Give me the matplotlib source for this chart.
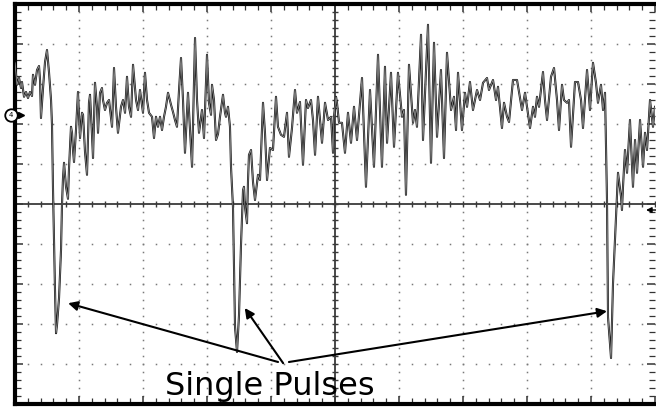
import numpy as np
import matplotlib
matplotlib.use("Agg")
import matplotlib.pyplot as plt
from matplotlib.ticker import MultipleLocator

# scope trace, time and voltage both in screen divisions
t_div = [
    0.0, 0.016, 0.031, 0.063, 0.094, 0.109, 0.141, 0.172, 0.203, 0.234,
    0.266, 0.281, 0.313, 0.344, 0.375, 0.391, 0.406, 0.438, 0.469, 0.5,
    0.531, 0.563, 0.578, 0.594, 0.625, 0.641, 0.656, 0.688, 0.719, 0.734,
    0.75, 0.766, 0.797, 0.828, 0.844, 0.875, 0.891, 0.906, 0.922, 0.953,
    0.984, 1.016, 1.047, 1.063, 1.094, 1.125, 1.156, 1.172, 1.203, 1.219,
    1.25, 1.281, 1.297, 1.328, 1.359, 1.375, 1.406, 1.438, 1.469, 1.516,
    1.547, 1.578, 1.609, 1.656, 1.688, 1.719, 1.75, 1.781, 1.813, 1.844,
    1.891, 1.922, 1.953, 2.0, 2.031, 2.063, 2.094, 2.141, 2.172, 2.203,
    2.234, 2.266, 2.297, 2.328, 2.359, 2.391, 2.438, 2.469, 2.5, 2.531,
    2.563, 2.594, 2.625, 2.656, 2.703, 2.734, 2.766, 2.813, 2.844, 2.875,
    2.922, 2.953, 3.0, 3.031, 3.063, 3.078, 3.109, 3.141, 3.172, 3.203,
    3.25, 3.281, 3.297, 3.328, 3.359, 3.375, 3.406, 3.422, 3.438, 3.469,
    3.5, 3.531, 3.563, 3.578, 3.594, 3.625, 3.641, 3.656, 3.688, 3.719,
    3.75, 3.797, 3.828, 3.875, 3.906, 3.938, 3.984, 4.031, 4.078, 4.109,
    4.156, 4.203, 4.25, 4.281, 4.328, 4.375, 4.406, 4.453, 4.5, 4.547,
    4.578, 4.625, 4.656, 4.688, 4.734, 4.766, 4.797, 4.844, 4.891, 4.938,
    4.969, 4.984, 5.016, 5.031, 5.063, 5.109, 5.156, 5.203, 5.25, 5.297,
    5.344, 5.422, 5.484, 5.547, 5.609, 5.672, 5.734, 5.781, 5.813, 5.875,
    5.922, 5.984, 6.047, 6.078, 6.109, 6.156, 6.219, 6.25, 6.281, 6.344,
    6.375, 6.453, 6.5, 6.547, 6.594, 6.656, 6.703, 6.75, 6.813, 6.859,
    6.891, 6.922, 6.984, 7.031, 7.063, 7.109, 7.156, 7.219, 7.266, 7.313,
    7.375, 7.406, 7.469, 7.516, 7.547, 7.609, 7.641, 7.688, 7.719, 7.781,
    7.844, 7.922, 7.969, 8.0, 8.047, 8.094, 8.125, 8.156, 8.188, 8.25,
    8.281, 8.313, 8.375, 8.422, 8.469, 8.5, 8.547, 8.578, 8.625, 8.656,
    8.688, 8.75, 8.797, 8.844, 8.875, 8.938, 8.984, 9.031, 9.078, 9.109,
    9.156, 9.188, 9.219, 9.25, 9.266, 9.313, 9.344, 9.391, 9.422, 9.469,
    9.484, 9.5, 9.531, 9.563, 9.609, 9.656, 9.688, 9.719, 9.766, 9.813,
    9.844, 9.875, 9.922, 9.969, 10.0,
]
v_div = [
    3.53, 3.25, 2.98, 3.15, 2.9, 3.05, 2.68, 2.8, 2.65, 2.8,
    2.7, 3.23, 2.98, 3.35, 3.45, 3.1, 2.15, 2.9, 3.55, 3.85,
    3.3, 2.6, 1.98, 0.35, -2.15, -3.23, -3.03, -2.35, -1.15, -0.03,
    0.65, 1.03, 0.43, 0.13, 0.9, 1.93, 1.78, 1.35, 1.05, 1.85,
    2.8, 1.65, 2.28, 2.23, 1.3, 0.73, 2.53, 2.73, 1.73, 1.15,
    3.03, 2.43, 1.78, 2.78, 2.9, 2.6, 2.35, 2.53, 2.6, 1.93,
    3.4, 2.43, 1.78, 2.43, 2.6, 2.28, 3.18, 2.43, 2.18, 3.48,
    2.6, 2.35, 2.85, 2.28, 3.28, 2.6, 2.28, 2.18, 1.65, 2.18,
    1.93, 2.18, 1.85, 2.18, 2.43, 2.78, 2.48, 2.3, 2.1, 1.93,
    2.85, 3.65, 2.6, 1.28, 2.78, 1.85, 0.93, 4.15, 2.6, 1.78,
    2.35, 1.65, 3.73, 2.53, 2.23, 2.98, 2.6, 1.6, 1.75, 2.18,
    2.73, 2.28, 2.18, 2.43, 1.93, 0.93, -0.08, -1.65, -3.08, -3.7,
    -2.78, -1.03, 0.35, 0.43, -0.08, -0.48, 0.6, 1.23, 1.35, 0.55,
    0.1, 0.73, 0.6, 2.53, 1.78, 0.6, 1.4, 1.35, 2.68, 1.93,
    1.73, 1.68, 2.28, 1.18, 1.9, 2.85, 2.28, 2.55, 0.98, 2.6,
    2.4, 2.6, 2.1, 1.23, 2.68, 2.1, 1.53, 2.53, 2.1, 2.18,
    1.28, 2.18, 2.68, 2.53, 2.03, 2.03, 1.28, 2.28, 1.53, 2.43,
    1.6, 3.15, 0.43, 2.85, 0.93, 3.73, 0.93, 3.43, 1.53, 3.28,
    1.43, 3.28, 2.18, 2.35, 0.23, 3.48, 2.03, 2.35, 1.93, 4.23,
    1.6, 4.48, 1.03, 4.03, 1.68, 3.35, 1.15, 3.78, 2.35, 2.68,
    1.85, 3.28, 1.85, 2.78, 2.43, 3.05, 2.35, 2.85, 2.6, 3.03,
    3.15, 2.85, 3.1, 2.6, 2.93, 1.9, 2.53, 2.18, 2.05, 3.1,
    3.1, 2.35, 2.78, 2.43, 1.9, 2.43, 2.18, 2.68, 2.43, 3.3,
    2.6, 2.1, 3.18, 3.4, 2.6, 1.85, 2.98, 2.6, 2.53, 2.6,
    1.43, 3.05, 3.05, 2.6, 1.9, 3.35, 2.35, 3.53, 3.03, 2.53,
    2.98, 2.35, 2.78, 0.1, -2.83, -3.85, -1.98, -0.33, 0.78, 0.18,
    -0.15, 0.43, 1.35, 0.78, 2.1, 0.43, 1.6, 0.78, 2.1, 0.93,
    1.78, 1.35, 2.6, 1.93, 2.43,
]
assert len(t_div) == len(v_div)

PULSE_LABEL = "Single Pulses"
CHANNEL = "4"

fig = plt.figure(figsize=(6.56, 4.08), dpi=100)
fig.patch.set_facecolor("white")
ax = fig.add_axes([15 / 656, 4 / 408, 640 / 656, 400 / 408])
ax.set_xlim(0, 10)
ax.set_ylim(-5, 5)

# ── graticule: dotted major lines, solid centre cross with minor ticks ──
xs_minor = np.arange(0, 10.001, 0.2)
ys_minor = np.arange(-5, 5.001, 0.2)
for gx in [1, 2, 3, 4, 6, 7, 8, 9]:
    ax.plot(np.full_like(ys_minor, gx), ys_minor, ls="none", marker="s",
            ms=1.1, mew=0, color="#7a7a7a", zorder=1)
for gy in [-4, -3, -2, -1, 1, 2, 3, 4]:
    ax.plot(xs_minor, np.full_like(xs_minor, gy), ls="none", marker="s",
            ms=1.1, mew=0, color="#7a7a7a", zorder=1)

ax.axhline(0, color="#3a3a3a", lw=1.3, zorder=2)
ax.axvline(5, color="#3a3a3a", lw=1.3, zorder=2)
ax.plot(xs_minor, np.zeros_like(xs_minor), ls="none", marker="|",
        ms=5, mew=1.0, color="#3a3a3a", zorder=2)
ax.plot(np.full_like(ys_minor, 5), ys_minor, ls="none", marker="_",
        ms=5, mew=1.0, color="#3a3a3a", zorder=2)

# ── frame ──
for side in ("left", "top", "bottom"):
    ax.spines[side].set_linewidth(3)
    ax.spines[side].set_color("black")
ax.spines["right"].set_visible(False)
ax.xaxis.set_major_locator(MultipleLocator(1))
ax.xaxis.set_minor_locator(MultipleLocator(0.2))
ax.yaxis.set_major_locator(MultipleLocator(1))
ax.yaxis.set_minor_locator(MultipleLocator(0.2))
ax.tick_params(which="both", direction="in", top=True, right=True,
               labelbottom=False, labelleft=False, color="#333333")
ax.tick_params(which="major", length=6, width=1.1)
ax.tick_params(which="minor", length=4, width=0.9)

# ── trace: dark outline with grey core, like the scope print ──
ax.plot(t_div, v_div, color="#1c1c1c", lw=1.5, zorder=4,
        solid_joinstyle="round")
ax.plot(t_div, v_div, color="#a8a8a8", lw=0.45, zorder=5,
        solid_joinstyle="round")

# ── channel reference marker (left) and trigger marker (right) ──
ax.plot(-0.0625, 2.22, marker="o", ms=9, mfc="white", mec="black",
        mew=1.3, clip_on=False, zorder=6)
ax.text(-0.0625, 2.22, CHANNEL, fontsize=5, ha="center", va="center",
        clip_on=False, zorder=7)
ax.plot(0.09, 2.22, marker=">", ms=5, color="black", clip_on=False,
        zorder=6)
ax.annotate("", xy=(9.86, -0.15), xytext=(10.02, -0.15),
            arrowprops=dict(arrowstyle="-|>", color="black", lw=1.0,
                            mutation_scale=8, shrinkA=0, shrinkB=0),
            annotation_clip=False, zorder=6)

# ── label and arrows to the three pulses ──
ax.text(2.34, -4.78, PULSE_LABEL, fontsize=23, ha="left", va="baseline",
        color="black", zorder=6)
arrow_tails = [(4.11, -3.95), (4.19, -3.98), (4.28, -3.95)]
arrow_heads = [(0.83, -2.48), (3.59, -2.60), (9.25, -2.68)]
for tail, head in zip(arrow_tails, arrow_heads):
    ax.annotate("", xy=head, xytext=tail,
                arrowprops=dict(arrowstyle="-|>", color="black", lw=1.5,
                                mutation_scale=14, shrinkA=0, shrinkB=0),
                zorder=6)

fig.savefig("out.png", dpi=100, facecolor="white")
